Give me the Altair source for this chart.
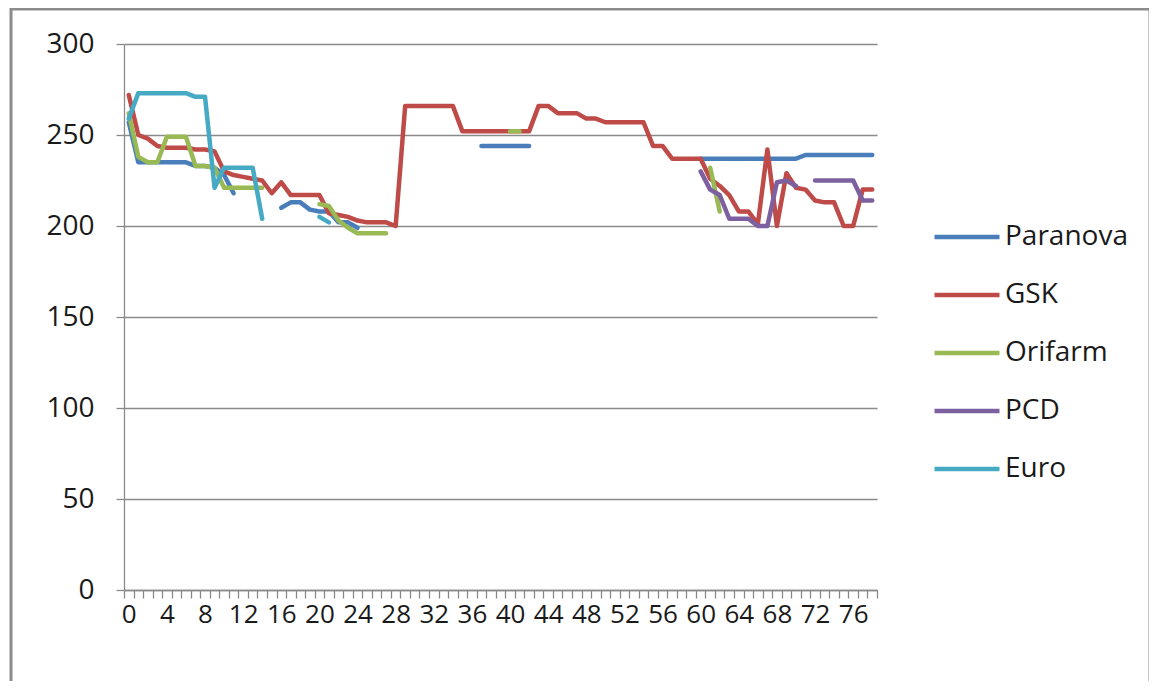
import altair as alt
import pandas as pd

N = None
x_index = list(range(79))

paranova = [257, 235, 235, 235, 235, 235, 235, 233, 233, 232, 228, 218, N, N, N, N,
            210, 213, 213, 209, 208, 208, 202, 202, 199,
            N, N, N, N, N, N, N, N, N, N, N, N,
            244, 244, 244, 244, 244, 244,
            N, N, N, N, N, N, N, N, N, N, N, N, N, N, N, N, N,
            237, 237, 237, 237, 237, 237, 237, 237, 237, 237, 237,
            239, 239, 239, 239, 239, 239, 239, 239]

gsk = [272, 250, 248, 244, 243, 243, 243, 242, 242, 241, 230, 228, 227, 226, 225, 218,
       224, 217, 217, 217, 217, 207, 206, 205, 203, 202, 202, 202, 200,
       266, 266, 266, 266, 266, 266, 252, 252, 252, 252, 252, 252, 252, 252,
       266, 266, 262, 262, 262, 259, 259, 257, 257, 257, 257, 257, 244, 244,
       237, 237, 237, 237, 226, 222, 217, 208, 208, 201, 242, 200, 229, 221,
       220, 214, 213, 213, 200, 200, 220, 220]

orifarm = [262, 238, 235, 235, 249, 249, 249, 233, 233, 232, 221, 221, 221, 221, 221,
           N, N, N, N, N,
           212, 211, 203, 199, 196, 196, 196, 196,
           N, N, N, N, N, N, N, N, N, N, N, N,
           252, 252,
           N, N, N, N, N, N, N, N, N, N, N, N, N, N, N, N, N, N, N,
           232, 208,
           N, N, N, N, N, N, N, N, N, N, N, N, N, N, N, N]

pcd = [N] * 60 + [230, 220, 217, 204, 204, 204, 200, 200, 224, 225, 222, N,
                  225, 225, 225, 225, 225, 214, 214]

euro = [259, 273, 273, 273, 273, 273, 273, 271, 271, 221, 232, 232, 232, 232, 204,
        N, N, N, N, N,
        205, 202] + [N] * 57

series_names = ["Paranova", "GSK", "Orifarm", "PCD", "Euro"]
series_colors = ["#4A7EBB", "#BE4B48", "#98B954", "#7D60A0", "#46AAC5"]
series_values = [paranova, gsk, orifarm, pcd, euro]

rows = []
for name, vals in zip(series_names, series_values):
    seg = 0
    prev = None
    for i, v in zip(x_index, vals):
        if v is None:
            if prev is not None:
                seg += 1
            prev = None
            continue
        rows.append({"x": i, "y": v, "series": name, "seg": f"{name}-{seg}"})
        prev = v
df = pd.DataFrame(rows)

W, H = 753, 546
FONT = "Open Sans"
GRAY = "#8a8a8a"
TXT = "#1a1a1a"

label_expr = ("((datum.value + 0.5) % 4 == 0 && datum.value < 78) ? "
              "format(datum.value + 0.5, 'd') : ''")

lines = alt.Chart(df).mark_line(
    strokeWidth=4.5, strokeCap="round", strokeJoin="round"
).encode(
    x=alt.X("x:Q",
            scale=alt.Scale(domain=[-0.5, 78.5], nice=False, zero=False),
            axis=alt.Axis(values=[i - 0.5 for i in range(80)], labelExpr=label_expr,
                          labelOffset=W / 79 / 2, labelOverlap=False, labelBound=False,
                          labelFlush=False, grid=False, title=None,
                          tickSize=8, tickColor=GRAY, domainColor=GRAY, domainWidth=1.3,
                          tickWidth=1.3, labelFont=FONT, labelFontSize=26,
                          labelColor=TXT, labelPadding=3)),
    y=alt.Y("y:Q",
            scale=alt.Scale(domain=[0, 300], nice=False),
            axis=alt.Axis(values=list(range(0, 301, 50)), grid=True, gridColor=GRAY,
                          gridWidth=1.3, title=None, tickSize=8, tickColor=GRAY,
                          tickWidth=1.3, domainColor=GRAY, domainWidth=1.3,
                          labelFont=FONT, labelFontSize=28, labelColor=TXT,
                          labelPadding=22)),
    color=alt.Color("series:N",
                    scale=alt.Scale(domain=series_names, range=series_colors),
                    legend=alt.Legend(orient="none", legendX=808, legendY=158, title=None,
                                      symbolType="stroke", symbolSize=4225,
                                      symbolStrokeWidth=4.5, labelFont=FONT,
                                      labelFontSize=28, labelColor=TXT, labelOffset=3,
                                      rowPadding=9, padding=0)),
    detail="seg:N",
)

frame = alt.Chart(pd.DataFrame({"a": [0]})).mark_rect(
    fillOpacity=0, stroke="#8c8c8c", strokeWidth=3
).encode(
    x=alt.value(-113), x2=alt.value(1026), y=alt.value(-35), y2=alt.value(700)
)

chart = alt.layer(frame, lines).properties(
    width=W, height=H,
    padding={"left": 116, "top": 36, "right": 272, "bottom": 91},
    autosize=alt.AutoSizeParams(type="none"),
).configure_view(stroke=None)

chart.save("out.html", embed_options={"renderer": "svg", "actions": False})
